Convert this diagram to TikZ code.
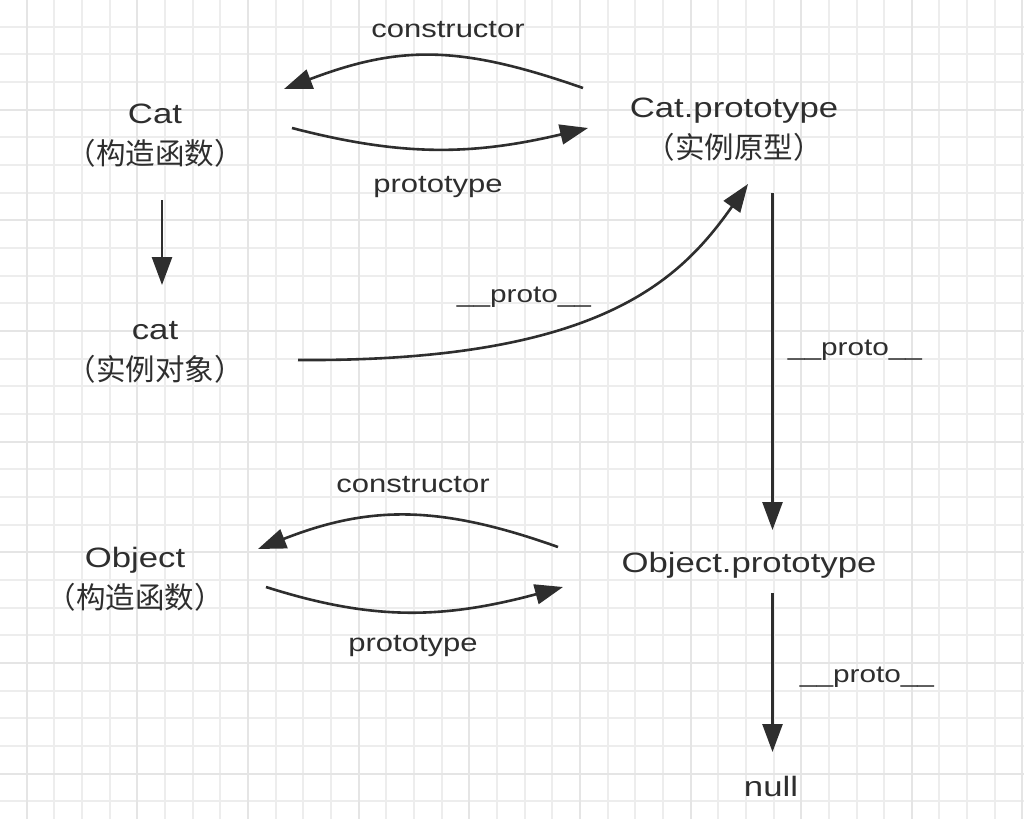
\documentclass[tikz,border=0pt]{standalone}
\usepackage{fontspec}
\setmainfont[FakeStretch=1.24]{Liberation Sans}
\newfontfamily\cjkfont{Noto Sans CJK SC}
\newcommand\zhtext[1]{{\cjkfont\fontsize{29.5}{41}\selectfont #1}}
\usetikzlibrary{arrows.meta,calc}
\definecolor{ink}{HTML}{2E2E2E}
\definecolor{gridminor}{HTML}{EDEDED}
\definecolor{gridmajor}{HTML}{E5E5E5}
\tikzset{
  lbl/.style={font=\fontsize{25}{30}\selectfont, text=ink, inner sep=0pt, anchor=base},
  mainlbl/.style={font=\fontsize{28}{41}\selectfont, text=ink, inner sep=0pt, align=center},
  conn/.style={draw=ink, line width=2.6pt, -{Triangle[length=28pt,width=20pt]}},
  gminor/.style={draw=gridminor, line width=1.3pt},
  gmajor/.style={draw=gridmajor, line width=2pt},
}
\begin{document}
\begin{tikzpicture}[x=1pt,y=-1pt]
\useasboundingbox (0,0) rectangle (1024,819);
\fill[white] (0,0) rectangle (1024,819);
% grid
\foreach \k in {-1,...,36}{
  \pgfmathsetmacro\xx{round(26.7+\k*27.66)}
  \draw[gminor] (\xx,0) -- (\xx,819);
}
\foreach \k in {0,...,29}{
  \pgfmathsetmacro\yy{round(-0.86+\k*27.66)}
  \draw[gminor] (0,\yy) -- (1024,\yy);
}
\foreach \k in {0,4,...,36}{
  \pgfmathsetmacro\xx{round(26.7+\k*27.66)}
  \draw[gmajor] (\xx,0) -- (\xx,819);
}
\foreach \k in {0,4,...,28}{
  \pgfmathsetmacro\yy{round(-0.86+\k*27.66)}
  \draw[gmajor] (0,\yy) -- (1024,\yy);
}
% main nodes
\node[mainlbl] (Cat)  at (155,136) {Cat\\\zhtext{（构造函数）}};
\node[mainlbl] (cat)  at (155,352) {cat\\\zhtext{（实例对象）}};
\node[mainlbl] (CatP) at (734,130) {Cat.prototype\\\zhtext{（实例原型）}};
\node[mainlbl] (Obj)  at (135,579) {Object\\\zhtext{（构造函数）}};
\node[mainlbl, anchor=base] (ObjP) at (749,572) {Object.prototype};
\node[mainlbl, anchor=base] (null) at (771,796) {null};
% labels
\node[lbl] (l1) at (448,37) {constructor};
\node[lbl] (l2) at (438,192) {prototype};
\node[lbl, font=\fontsize{24}{30}\selectfont] (l3) at (524,302) {\_\_proto\_\_};
\node[lbl, font=\fontsize{24}{30}\selectfont] (l4) at (855,355) {\_\_proto\_\_};
\node[lbl] (l5) at (413,492) {constructor};
\node[lbl] (l6) at (413,651) {prototype};
\node[lbl, font=\fontsize{24}{30}\selectfont] (l7) at (867,682) {\_\_proto\_\_};
% connectors
\draw[conn] ($(CatP.center)+(-151,-42)$) .. controls (460,45) and (400,45) .. ($(Cat.center)+(129,-47)$);
\draw[conn] ($(Cat.center)+(137,-8)$) .. controls (400,156) and (470,156) .. ($(CatP.center)+(-146,-2)$);
\draw[conn] ($(Cat.center)+(7,64)$) -- ($(cat.center)+(7,-67)$);
\draw[conn] ($(cat.center)+(143,8)$) .. controls (600,362) and (680,280) .. ($(CatP.center)+(14,54)$);
\draw[conn] ($(CatP.center)+(38.5,63)$) -- ($(ObjP.base)+(23.5,-42)$);
\draw[conn] ($(ObjP.base)+(-191,-25)$) .. controls (440,505) and (370,505) .. ($(Obj.center)+(123,-30)$);
\draw[conn] ($(Obj.center)+(131,8)$) .. controls (370,620) and (440,620) .. ($(ObjP.base)+(-186,15)$);
\draw[conn] ($(ObjP.base)+(23.5,21)$) -- ($(null.base)+(1.5,-44)$);
\end{tikzpicture}
\end{document}
